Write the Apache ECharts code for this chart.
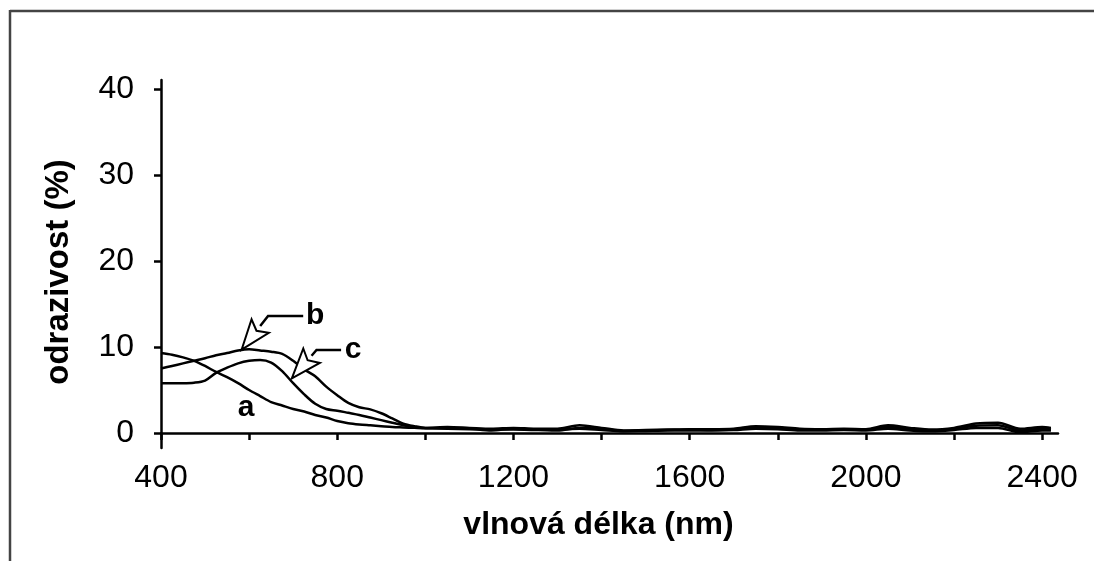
<!DOCTYPE html>
<html>
<head>
<meta charset="utf-8">
<script src="https://cdn.jsdelivr.net/npm/echarts@6/dist/echarts.min.js"></script>
<style>
html,body{margin:0;padding:0;background:#fff;overflow:hidden;}
#chart{width:1095px;height:561px;}
</style>
</head>
<body>
<div id="chart"></div>
<script>
// Wavelength grid (nm)
const wavelengths = [400,425,450,475,500,525,550,575,600,625,650,675,700,725,750,775,800,825,850,875,900,925,950,975,1000,
  1050,1100,1150,1200,1250,1300,1350,1400,1450,1500,1550,1600,1650,1700,1750,1800,1850,1900,1950,2000,2050,2100,2150,2200,2250,2300,2350,2400,2420];

// Reflectance (%) for curves a, b, c
const seriesA = [9.3,9.1,8.8,8.4,7.8,7.1,6.5,5.8,5.0,4.3,3.6,3.2,2.8,2.5,2.1,1.8,1.4,1.15,1.0,0.9,0.8,0.7,0.65,0.6,0.55,
  0.5,0.45,0.4,0.4,0.35,0.4,0.5,0.35,0.2,0.25,0.3,0.3,0.3,0.35,0.5,0.45,0.3,0.3,0.35,0.3,0.5,0.3,0.2,0.35,0.6,0.6,0.1,0.3,0.3];
const seriesB = [7.5,7.8,8.1,8.4,8.7,9.05,9.3,9.6,9.75,9.6,9.45,9.2,8.4,7.4,6.6,5.4,4.4,3.5,3.0,2.75,2.3,1.7,1.1,0.8,0.6,
  0.7,0.6,0.5,0.6,0.5,0.5,0.9,0.6,0.3,0.35,0.4,0.45,0.45,0.5,0.8,0.7,0.5,0.45,0.5,0.45,0.9,0.6,0.4,0.6,1.1,1.2,0.5,0.7,0.6];
const seriesC = [5.8,5.8,5.8,5.85,6.1,7.0,7.6,8.1,8.4,8.5,8.2,7.2,5.8,4.5,3.4,2.8,2.6,2.35,2.1,1.8,1.5,1.2,0.9,0.7,0.6,
  0.6,0.5,0.3,0.5,0.4,0.3,0.6,0.5,0.25,0.3,0.35,0.4,0.35,0.4,0.6,0.55,0.4,0.4,0.45,0.4,0.7,0.45,0.3,0.5,0.85,0.9,0.3,0.5,0.4];

// Axis ticks / labels
const xTicks = [400,600,800,1000,1200,1400,1600,1800,2000,2200,2400];
const xLabels = [400,800,1200,1600,2000,2400];
const yTicks = [0,10,20,30,40];

// Annotations (data coordinates: nm, %)
const annNames = ['a','b','c'];
const annLabelPos = [[593,3.0],[750,13.6],[836,9.65]];
const annTip = [null,[583,9.7],[697,6.36]];
const annElbow = [null,[643,13.6],[753,9.65]];

const FONT = '"Liberation Sans", Arial, sans-serif';

function pairs(xs, ys){ return xs.map((x,i)=>[x, ys[i]]); }

const chart = echarts.init(document.getElementById('chart'));

function lineSeries(name, ys){
  return {
    name: name, type:'line', data: pairs(wavelengths, ys),
    showSymbol:false, smooth:0.3, silent:true,
    lineStyle:{color:'#000', width:2.5}
  };
}

chart.setOption({
  animation:false,
  backgroundColor:'#fff',
  grid:{left:161, right:37, top:80, bottom:113, containLabel:false},
  xAxis:{
    type:'value', min:400, max:2436,
    name:'vlnová délka (nm)', nameLocation:'middle', nameGap:61,
    nameTextStyle:{fontFamily:FONT, fontWeight:'bold', fontSize:32, color:'#000', padding:[0,22,0,0]},
    axisLine:{onZero:true, lineStyle:{color:'#000', width:2.5}},
    axisTick:{show:true, length:7, lineStyle:{color:'#000', width:2.5}, customValues:xTicks},
    axisLabel:{customValues:xLabels, formatter:function(v){return String(v);}, fontFamily:FONT, fontSize:32, color:'#000', margin:14},
    splitLine:{show:false}
  },
  yAxis:{
    type:'value', min:-1.74, max:41.05,
    name:'odrazivost (%)', nameLocation:'middle', nameGap:86, nameRotate:90,
    nameTextStyle:{fontFamily:FONT, fontWeight:'bold', fontSize:33, color:'#000', padding:[0,16,0,0]},
    axisLine:{show:true, lineStyle:{color:'#000', width:2.5}},
    axisTick:{show:true, length:7, lineStyle:{color:'#000', width:2.5}, customValues:yTicks},
    axisLabel:{customValues:yTicks, fontFamily:FONT, fontSize:32, color:'#000', margin:27},
    splitLine:{show:false}
  },
  graphic:[
    {type:'line', shape:{x1:10, y1:11, x2:1094, y2:11}, style:{stroke:'#444', lineWidth:2.5, lineCap:'butt'}, z:10},
    {type:'line', shape:{x1:10, y1:10, x2:10, y2:561}, style:{stroke:'#444', lineWidth:2.5, lineCap:'butt'}, z:10}
  ],
  series:[
    lineSeries('a', seriesA),
    lineSeries('b', seriesB),
    lineSeries('c', seriesC),
    {
      type:'custom', coordinateSystem:'cartesian2d', silent:true, clip:false, z:5,
      data: annLabelPos.map((p)=>[p[0],p[1]]),
      renderItem: function(params, api){
        const i = params.dataIndex;
        const lp = api.coord(annLabelPos[i]);
        const children = [];
        if (annTip[i]) {
          const tip = api.coord(annTip[i]);
          const elb = api.coord(annElbow[i]);
          let dx = elb[0]-tip[0], dy = elb[1]-tip[1];
          const len = Math.sqrt(dx*dx+dy*dy); dx/=len; dy/=len;
          const L = 30, W = 11;
          const base = [tip[0]+dx*L, tip[1]+dy*L];
          const px = -dy, py = dx;
          children.push({type:'polyline', shape:{points:[base, elb, [lp[0]-12, elb[1]]]},
            style:{stroke:'#000', lineWidth:2.5, fill:null}});
          children.push({type:'polygon', shape:{points:[tip, [base[0]+px*W, base[1]+py*W], [base[0]+dx*-6, base[1]+dy*-6], [base[0]-px*W, base[1]-py*W]]},
            style:{stroke:'#000', lineWidth:2, fill:'#fff'}});
        }
        children.push({type:'text', style:{text:annNames[i], x:lp[0], y:lp[1], align:'center', verticalAlign:'middle',
          fontFamily:FONT, fontWeight:'bold', fontSize:30, fill:'#000'}});
        return {type:'group', children:children};
      }
    }
  ]
});
</script>
</body>
</html>
